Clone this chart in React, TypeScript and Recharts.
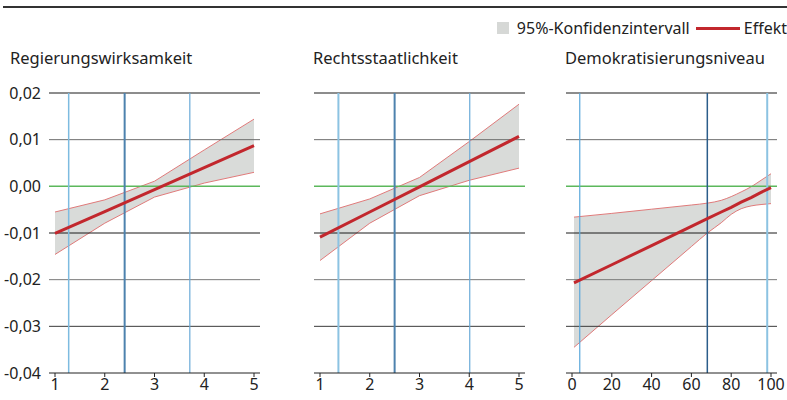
import React from "react";
import {
  ComposedChart,
  Area,
  Line,
  XAxis,
  YAxis,
  ReferenceLine,
} from "recharts";

// panel data: x values, effect and confidence bounds
const xsFive = [1, 2, 3, 4, 5];
const effektRegierung = [-0.0101, -0.0054, -0.0007, 0.004, 0.0087];
const unterRegierung = [-0.0146, -0.0079, -0.0023, 0.0007, 0.003];
const oberRegierung = [-0.0055, -0.0029, 0.0011, 0.0078, 0.0144];

const effektRecht = [-0.0109, -0.0055, -0.0001, 0.0053, 0.0107];
const unterRecht = [-0.0159, -0.0079, -0.002, 0.0013, 0.0039];
const oberRecht = [-0.0059, -0.0027, 0.0019, 0.0096, 0.0176];

const xsDemo = [1, 20, 40, 60, 68, 75, 80, 85, 90, 95, 100];
const effektDemo = [-0.0207, -0.0168, -0.0127, -0.0086, -0.0069, -0.0055, -0.0045, -0.0034, -0.0024, -0.0013, -0.0003];
const unterDemo = [-0.0345, -0.0275, -0.0202, -0.0129, -0.01, -0.0078, -0.006, -0.0048, -0.0042, -0.0039, -0.0037];
const oberDemo = [-0.0066, -0.0058, -0.0049, -0.004, -0.0036, -0.003, -0.0022, -0.0012, -0.0001, 0.0013, 0.0027];

const yTicks = [0.02, 0.01, 0, -0.01, -0.02, -0.03, -0.04];
const ticksFive = [1, 2, 3, 4, 5];
const ticksDemo = [0, 20, 40, 60, 80, 100];

// vertical markers per panel
const markerRegierung = [1.275, 2.4, 3.71];
const markerRecht = [1.37, 2.5, 4.01];
const markerDemo = [3.9, 68, 98.1];

const FONT = "'Noto Sans', sans-serif";

const gridColors: Record<string, string> = {
  "0.02": "#1a1a1a",
  "0.01": "#6e6e6e",
  "0": "#5cb85c",
  "-0.01": "#1a1a1a",
  "-0.02": "#7a7a7a",
  "-0.03": "#3a3a3a",
};

const markerStyles = [
  [
    { c: "#7dbbe0", w: 1.5 },
    { c: "#4d82ae", w: 2 },
    { c: "#6aaad8", w: 1.2 },
  ],
  [
    { c: "#8cc3e2", w: 2 },
    { c: "#4d82ae", w: 2 },
    { c: "#6aaad8", w: 1.2 },
  ],
  [
    { c: "#5aa7da", w: 1.2 },
    { c: "#2b5d8a", w: 1.5 },
    { c: "#8cc3e2", w: 2 },
  ],
];

const fmt = (v: number) => v.toFixed(2).replace(".", ",").replace("-0,00", "0,00");

const build = (xs: number[], eff: number[], lo: number[], hi: number[]) =>
  xs.map((x, i) => ({ x, effekt: eff[i], band: [lo[i], hi[i]] }));

interface PanelProps {
  left: number;
  width: number;
  rightMargin: number;
  title: string;
  titleLeft: number;
  data: { x: number; effekt: number; band: number[] }[];
  domain: [number, number];
  ticks: number[];
  markers: number[];
  styles: { c: string; w: number }[];
  curve: "linear" | "monotone";
  showY?: boolean;
}

const Panel: React.FC<PanelProps> = ({
  left,
  width,
  rightMargin,
  title,
  titleLeft,
  data,
  domain,
  ticks,
  markers,
  styles,
  curve,
  showY,
}) => (
  <>
    <div
      style={{
        position: "absolute",
        left: titleLeft,
        top: 46,
        fontSize: 16.5,
        color: "#222",
        fontFamily: FONT,
        whiteSpace: "nowrap",
      }}
    >
      {title}
    </div>
    <div style={{ position: "absolute", left, top: 80 }}>
      <ComposedChart
        width={width}
        height={320}
        data={data}
        margin={{ top: 13, right: rightMargin, left: 0, bottom: 0 }}
      >
        <XAxis
          dataKey="x"
          type="number"
          domain={domain}
          ticks={ticks}
          padding={{ left: 6, right: 6 }}
          height={27}
          stroke="#222"
          tickSize={4}
          tick={{ fontSize: 16, fill: "#222", fontFamily: FONT }}
          interval={0}
        />
        <YAxis
          type="number"
          domain={[-0.04, 0.02]}
          ticks={yTicks}
          width={showY ? 49 : 0}
          hide={!showY}
          axisLine={false}
          tickLine={false}
          tickFormatter={fmt}
          tick={{ fontSize: 16, fill: "#222", fontFamily: FONT }}
        />
        {Object.keys(gridColors).map((k) => (
          <ReferenceLine
            key={k}
            y={Number(k)}
            stroke={gridColors[k]}
            strokeWidth={k === "0" ? 1.5 : 1}
          />
        ))}
        {markers.map((m, i) => (
          <ReferenceLine
            key={"m" + i}
            x={m}
            stroke={styles[i].c}
            strokeWidth={styles[i].w}
          />
        ))}
        <Area
          dataKey="band"
          type={curve}
          fill="#d9dbd9"
          fillOpacity={1}
          stroke="#e07a7a"
          strokeWidth={1}
          isAnimationActive={false}
        />
        <Line
          dataKey="effekt"
          type="linear"
          stroke="#c2272d"
          strokeWidth={3}
          dot={false}
          isAnimationActive={false}
        />
      </ComposedChart>
    </div>
  </>
);

const App: React.FC = () => (
  <div
    style={{
      position: "absolute",
      left: 0,
      top: 0,
      width: 787,
      height: 400,
      background: "#fff",
      fontFamily: FONT,
      overflow: "hidden",
    }}
  >
    <div
      style={{
        position: "absolute",
        left: 3,
        top: 6,
        width: 784,
        height: 2,
        background: "#333",
      }}
    />
    <div
      style={{
        position: "absolute",
        right: 0,
        top: 17,
        display: "flex",
        alignItems: "center",
        fontSize: 16,
        color: "#222",
        whiteSpace: "nowrap",
      }}
    >
      <span
        style={{
          width: 12,
          height: 12,
          background: "#d6d8d6",
          display: "inline-block",
          marginRight: 8,
        }}
      />
      <span>95%-Konfidenzintervall</span>
      <span
        style={{
          width: 44,
          height: 3,
          background: "#c2272d",
          display: "inline-block",
          margin: "0 4px 0 6px",
        }}
      />
      <span>Effekt</span>
    </div>
    <Panel
      left={0}
      width={262}
      rightMargin={2}
      title="Regierungswirksamkeit"
      titleLeft={10}
      data={build(xsFive, effektRegierung, unterRegierung, oberRegierung)}
      domain={[1, 5]}
      ticks={ticksFive}
      markers={markerRegierung}
      styles={markerStyles[0]}
      curve="linear"
      showY
    />
    <Panel
      left={314}
      width={213}
      rightMargin={2}
      title="Rechtsstaatlichkeit"
      titleLeft={313}
      data={build(xsFive, effektRecht, unterRecht, oberRecht)}
      domain={[1, 5]}
      ticks={ticksFive}
      markers={markerRecht}
      styles={markerStyles[1]}
      curve="linear"
    />
    <Panel
      left={566}
      width={231}
      rightMargin={20}
      title="Demokratisierungsniveau"
      titleLeft={565}
      data={build(xsDemo, effektDemo, unterDemo, oberDemo)}
      domain={[0, 100]}
      ticks={ticksDemo}
      markers={markerDemo}
      styles={markerStyles[2]}
      curve="monotone"
    />
  </div>
);

export default App;
